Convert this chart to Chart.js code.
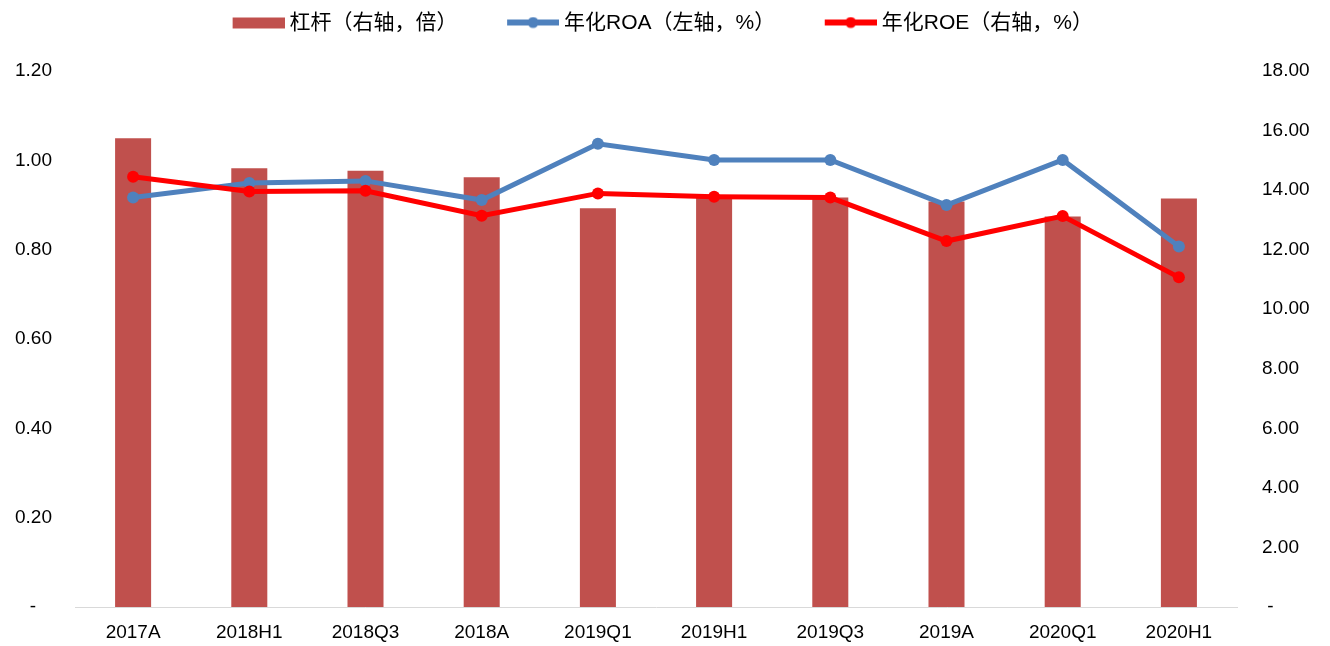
<!DOCTYPE html>
<html>
<head>
<meta charset="utf-8">
<script src="https://cdn.jsdelivr.net/npm/chart.js@4"></script>
<style>
  html, body { margin: 0; padding: 0; background: #fff; }
  #wrap { width: 1330px; height: 646px; }
</style>
</head>
<body>
<div id="wrap"><canvas id="chart"></canvas></div>
<script>
const categories = ['2017A', '2018H1', '2018Q3', '2018A', '2019Q1', '2019H1', '2019Q3', '2019A', '2020Q1', '2020H1'];
const leverage = [15.74, 14.73, 14.65, 14.43, 13.39, 13.78, 13.75, 13.62, 13.11, 13.72];
const roa = [0.917, 0.949, 0.954, 0.911, 1.037, 1.001, 1.001, 0.900, 1.001, 0.807];
const roe = [14.45, 13.95, 13.98, 13.14, 13.89, 13.78, 13.75, 12.29, 13.13, 11.07];
const seriesNames = ['杠杆（右轴，倍）', '年化ROA（左轴，%）', '年化ROE（右轴，%）'];

const BAR = '#C0504D', BLUE = '#4F81BD', RED = '#FF0000';
const FONT = "'Liberation Sans', Arial, 'Noto Sans CJK SC', sans-serif";

// legend swatches: transparent gap on the left, swatch on the right
function swatch(kind, color) {
  const c = document.createElement('canvas');
  c.width = 97; c.height = 14;
  const g = c.getContext('2d');
  if (kind === 'bar') {
    g.fillStyle = color;
    g.fillRect(45, 1, 52, 11);
  } else {
    g.strokeStyle = color;
    g.lineWidth = 6;
    g.beginPath(); g.moveTo(45, 6); g.lineTo(97, 6); g.stroke();
    g.fillStyle = color;
    g.beginPath(); g.arc(71, 6, 5.5, 0, Math.PI * 2); g.fill();
  }
  return c;
}
const swatches = [swatch('bar', BAR), swatch('line', BLUE), swatch('line', RED)];

// move the centred legend left and up to the top of the canvas
const legendShift = {
  id: 'legendShift',
  afterLayout(chart) {
    const lg = chart.legend;
    lg.left = -44;
    lg.top -= 27;
    lg.bottom -= 27;
  }
};

new Chart(document.getElementById('chart'), {
  type: 'bar',
  data: {
    labels: categories,
    datasets: [
      {
        label: seriesNames[0],
        data: leverage,
        yAxisID: 'y1',
        backgroundColor: BAR,
        barPercentage: 0.31,
        categoryPercentage: 1,
        order: 3
      },
      {
        type: 'line',
        label: seriesNames[1],
        data: roa,
        yAxisID: 'y',
        borderColor: BLUE,
        backgroundColor: BLUE,
        borderWidth: 5,
        pointRadius: 6,
        pointBorderWidth: 0,
        tension: 0,
        order: 2
      },
      {
        type: 'line',
        label: seriesNames[2],
        data: roe,
        yAxisID: 'y1',
        borderColor: RED,
        backgroundColor: RED,
        borderWidth: 5,
        pointRadius: 6,
        pointBorderWidth: 0,
        tension: 0,
        order: 1
      }
    ]
  },
  options: {
    responsive: true,
    maintainAspectRatio: false,
    animation: false,
    layout: { padding: 0 },
    plugins: {
      tooltip: { enabled: false },
      legend: {
        position: 'top',
        labels: {
          color: '#000',
          font: { family: FONT, size: 21 },
          usePointStyle: true,
          pointStyleWidth: 86,
          padding: 10,
          generateLabels(chart) {
            const items = Chart.defaults.plugins.legend.labels.generateLabels(chart);
            items.forEach(it => { it.pointStyle = swatches[it.datasetIndex]; });
            return items.sort((a, b) => a.datasetIndex - b.datasetIndex);
          }
        }
      }
    },
    scales: {
      x: {
        grid: { display: false, drawTicks: false },
        border: { display: true, color: '#D9D9D9', width: 1 },
        ticks: { color: '#000', font: { family: FONT, size: 19 }, padding: 14, maxRotation: 0 },
        afterFit(scale) { scale.height = 39; }
      },
      y: {
        position: 'left',
        min: 0,
        max: 1.2,
        grid: { display: false, drawTicks: false },
        border: { display: false },
        ticks: {
          stepSize: 0.2,
          color: '#000',
          font: { family: FONT, size: 19 },
          padding: 23,
          callback: v => Math.abs(v) < 1e-9 ? '-   ' : v.toFixed(2)
        },
        afterFit(scale) { scale.width = 75; scale.paddingTop = 71; }
      },
      y1: {
        position: 'right',
        min: 0,
        max: 18,
        grid: { display: false, drawTicks: false },
        border: { display: false },
        ticks: {
          stepSize: 2,
          color: '#000',
          font: { family: FONT, size: 19 },
          padding: 25,
          callback: v => v === 0 ? ' -' : v.toFixed(2)
        },
        afterFit(scale) { scale.width = 93; scale.paddingTop = 71; }
      }
    }
  },
  plugins: [legendShift]
});
</script>
</body>
</html>
